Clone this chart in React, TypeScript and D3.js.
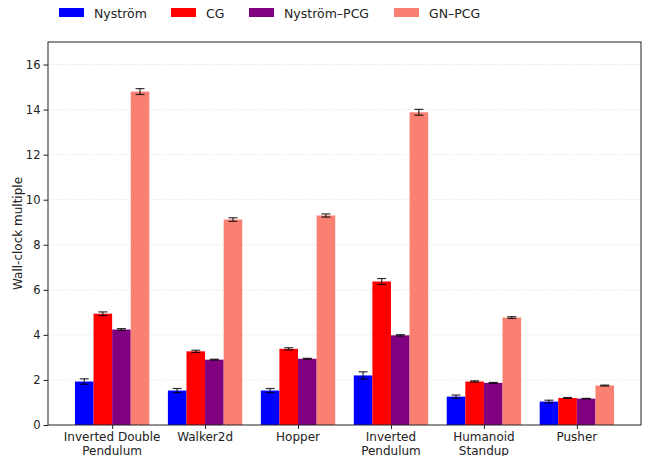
import { useEffect, useRef } from 'react'
import * as d3 from 'd3'

const categories = ['Inverted Double\nPendulum', 'Walker2d', 'Hopper', 'Inverted\nPendulum', 'Humanoid\nStandup', 'Pusher']
const seriesNames = ['Nyström', 'CG', 'Nyström–PCG', 'GN–PCG']
const seriesColors = ['#0000ff', '#ff0000', '#800080', '#fa8072']

const nystrom = [1.93, 1.53, 1.53, 2.2, 1.26, 1.04]
const nystromErr = [0.12, 0.09, 0.09, 0.16, 0.07, 0.06]
const cg = [4.94, 3.27, 3.38, 6.37, 1.93, 1.2]
const cgErr = [0.08, 0.05, 0.05, 0.13, 0.03, 0.02]
const nysPcg = [4.24, 2.9, 2.94, 3.98, 1.87, 1.17]
const nysPcgErr = [0.04, 0.02, 0.02, 0.03, 0.02, 0.01]
const gnPcg = [14.8, 9.12, 9.3, 13.88, 4.77, 1.75]
const gnPcgErr = [0.13, 0.08, 0.07, 0.13, 0.04, 0.02]

const yTicks = [0, 2, 4, 6, 8, 10, 12, 14, 16]

const W = 645
const H = 456
const margin = { top: 42, right: 4, bottom: 31, left: 48 }
const font = '"DejaVu Sans", sans-serif'

function App() {
  const svgRef = useRef<SVGSVGElement>(null)

  useEffect(() => {
    document.body.style.margin = '0'
    const svg = d3.select(svgRef.current)
    svg.selectAll('*').remove()

    const width = W - margin.left - margin.right
    const height = H - margin.top - margin.bottom

    const values = [nystrom, cg, nysPcg, gnPcg]
    const errors = [nystromErr, cgErr, nysPcgErr, gnPcgErr]
    const barW = 0.2
    const offsets = [-0.3, -0.1, 0.1, 0.3]

    const pad = 5.8 * 0.05
    const x = d3.scaleLinear().domain([-0.4 - pad, 5.4 + pad]).range([0, width])
    const y = d3.scaleLinear().domain([0, 17]).range([height, 0])

    const g = svg.append('g').attr('transform', `translate(${margin.left},${margin.top})`)

    // grid
    g.selectAll('.grid')
      .data(yTicks.filter((d) => d > 0))
      .enter()
      .append('line')
      .attr('x1', 0)
      .attr('x2', width)
      .attr('y1', (d) => y(d))
      .attr('y2', (d) => y(d))
      .attr('stroke', '#b0b0b0')
      .attr('stroke-opacity', 0.6)
      .attr('stroke-dasharray', '1,2')
      .attr('stroke-width', 0.8)

    // bars
    values.forEach((vals, s) => {
      g.selectAll(`.bar-${s}`)
        .data(vals)
        .enter()
        .append('rect')
        .attr('x', (_, i) => x(i + offsets[s] - barW / 2))
        .attr('y', (d) => y(d))
        .attr('width', x(barW) - x(0))
        .attr('height', (d) => height - y(d))
        .attr('fill', seriesColors[s])
    })

    // error bars
    values.forEach((vals, s) => {
      vals.forEach((v, i) => {
        const cx = x(i + offsets[s])
        const e = errors[s][i]
        const eg = g.append('g').attr('stroke', '#000').attr('stroke-width', 1.2).attr('stroke-opacity', 0.8)
        eg.append('line').attr('x1', cx).attr('x2', cx).attr('y1', y(v - e)).attr('y2', y(v + e))
        eg.append('line').attr('x1', cx - 4.5).attr('x2', cx + 4.5).attr('y1', y(v - e)).attr('y2', y(v - e))
        eg.append('line').attr('x1', cx - 4.5).attr('x2', cx + 4.5).attr('y1', y(v + e)).attr('y2', y(v + e))
      })
    })

    // frame
    g.append('rect')
      .attr('width', width)
      .attr('height', height)
      .attr('fill', 'none')
      .attr('stroke', '#222')
      .attr('stroke-width', 1)

    // y axis
    const yAxis = g.append('g').call(d3.axisLeft(y).tickValues(yTicks).tickSize(4.5).tickPadding(3))
    yAxis.select('.domain').remove()
    yAxis.selectAll('text').attr('font-family', font).attr('font-size', 11.5).attr('fill', '#222')
    yAxis.selectAll('line').attr('stroke', '#222')

    // x axis
    const xAxis = g
      .append('g')
      .attr('transform', `translate(0,${height})`)
      .call(d3.axisBottom(x).tickValues(d3.range(categories.length)).tickSize(4).tickFormat(() => ''))
    xAxis.select('.domain').remove()
    xAxis.selectAll('line').attr('stroke', '#222')

    categories.forEach((c, i) => {
      const t = g
        .append('text')
        .attr('x', x(i))
        .attr('y', height + 16)
        .attr('text-anchor', 'middle')
        .attr('font-family', font)
        .attr('font-size', 12)
        .attr('fill', '#222')
      c.split('\n').forEach((line, k) => {
        t.append('tspan').attr('x', x(i)).attr('dy', k === 0 ? 0 : 13.5).text(line)
      })
    })

    // y label
    svg
      .append('text')
      .attr('transform', `translate(22,${margin.top + height / 2}) rotate(-90)`)
      .attr('text-anchor', 'middle')
      .attr('font-family', font)
      .attr('font-size', 12)
      .attr('fill', '#222')
      .text('Wall-clock multiple')

    // legend
    const legendX = [59, 171, 249, 394]
    seriesNames.forEach((name, s) => {
      const lg = svg.append('g').attr('transform', `translate(${legendX[s]},8)`)
      lg.append('rect').attr('width', 25).attr('height', 9).attr('fill', seriesColors[s])
      lg.append('text')
        .attr('x', 35)
        .attr('y', 9.5)
        .attr('font-family', font)
        .attr('font-size', 12.5)
        .attr('fill', '#222')
        .text(name)
    })
  }, [])

  return <svg ref={svgRef} width={W} height={H} style={{ display: 'block' }} />
}

export default App
